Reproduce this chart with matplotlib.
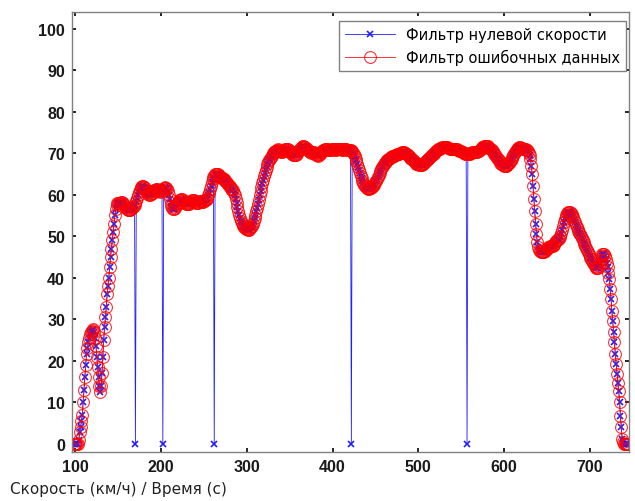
import matplotlib

matplotlib.use('Agg')
import matplotlib.pyplot as plt
import numpy as np

# speed samples, one per second, starting at t = 98 s
speed = [
    0, 0, 0, 0, 0, 0, 1, 2.8, 4, 5.5,                                   # 98
    7, 10, 13, 16, 19, 21.5, 23, 24.5, 25.5, 26.5,                      # 108
    27, 27.2, 27.4, 27.6, 27, 25.5, 23.5, 21, 18.5, 16,                 # 118
    14, 12.5, 14, 17, 21, 25, 28, 30.5, 33, 36,                         # 128
    38, 40, 42.5, 45, 47, 49, 51, 53, 55, 56.5,                         # 138
    57.5, 58, 58, 58, 58, 58.2, 58.2, 58, 57.8, 57.5,                   # 148
    57, 56.8, 56.5, 56.3, 56.2, 56.2, 56.3, 56.5, 56.8, 57,             # 158
    57.3, 57.6, 58, 58.5, 59.2, 60, 60.6, 61.1, 61.5, 61.8,             # 168
    62, 62, 61.8, 61.5, 61, 60.6, 60.3, 60.1, 60, 60,                   # 178
    60.1, 60.3, 60.5, 60.8, 61, 61.2, 61.3, 61.3, 61.2, 61,             # 188
    60.8, 60.7, 60.8, 61, 61.2, 61.5, 61.7, 61.8, 61.7, 61.4,           # 198
    60.8, 60, 59, 58, 57.3, 56.8, 56.6, 56.6, 56.8, 57.3,               # 208
    57.7, 58, 58.3, 58.6, 58.8, 59, 59, 58.8, 58.5, 58.2,               # 218
    58, 57.8, 57.7, 57.7, 57.8, 58, 58.2, 58.4, 58.6, 58.7,             # 228
    58.6, 58.4, 58.2, 58, 57.9, 58, 58.2, 58.4, 58.5, 58.4,             # 238
    58.3, 58.3, 58.4, 58.6, 58.8, 59, 59.3, 59.8, 60.5, 61.3,           # 248
    62.2, 63, 63.7, 64.2, 64.6, 64.9, 65, 65, 64.9, 64.7,               # 258
    64.5, 64.3, 64.1, 64, 63.9, 63.7, 63.5, 63.3, 63, 62.8,             # 268
    62.5, 62.2, 62, 61.7, 61.4, 61.2, 61, 60.5, 60, 59,                 # 278
    58, 57, 56, 55, 54.3, 53.7, 53.2, 52.8, 52.5, 52.2,                 # 288
    52, 51.8, 51.7, 51.6, 51.6, 51.7, 51.9, 52.2, 52.5, 53,             # 298
    53.6, 54.3, 55.1, 56, 56.9, 57.8, 58.8, 59.8, 60.8, 61.8,           # 308
    62.7, 63.6, 64.5, 65.3, 66, 66.7, 67.3, 67.8, 68.3, 68.7,           # 318
    69.1, 69.4, 69.7, 70, 70.2, 70.4, 70.6, 70.8, 70.9, 70.8,           # 328
    70.6, 70.4, 70.3, 70.3, 70.4, 70.6, 70.8, 71, 71.1, 71.1,           # 338
    71, 70.8, 70.6, 70.3, 70, 69.8, 69.6, 69.5, 69.5, 69.6,             # 348
    69.8, 70.1, 70.4, 70.7, 71, 71.3, 71.5, 71.6, 71.6, 71.5,           # 358
    71.4, 71.2, 71, 70.8, 70.6, 70.4, 70.2, 70.1, 70.2, 70.3,           # 368
    70.2, 70, 69.8, 69.6, 69.5, 69.4, 69.5, 69.7, 70, 70.3,             # 378
    70.5, 70.7, 70.8, 70.9, 71, 71, 70.9, 70.8, 70.7, 70.7,             # 388
    70.8, 70.9, 71, 71, 70.9, 70.8, 70.8, 70.9, 71, 71.1,               # 398
    71.1, 71, 70.9, 70.8, 70.8, 70.9, 71, 71, 70.9, 70.8,               # 408
    70.8, 70.8, 70.8, 70.7, 70.6, 70.4, 70.1, 69.7, 69.2, 68.6,         # 418
    68, 67.3, 66.6, 65.9, 65.2, 64.5, 63.9, 63.3, 62.8, 62.4,           # 428
    62.1, 61.8, 61.6, 61.5, 61.4, 61.4, 61.5, 61.6, 61.8, 62,           # 438
    62.3, 62.6, 63, 63.4, 63.8, 64.3, 64.8, 65.3, 65.8, 66.2,           # 448
    66.6, 67, 67.3, 67.6, 67.9, 68.1, 68.3, 68.5, 68.7, 68.8,           # 458
    69, 69.1, 69.2, 69.3, 69.4, 69.5, 69.6, 69.7, 69.8, 69.9,           # 468
    69.9, 70, 70.1, 70.2, 70.2, 70.2, 70.1, 70, 69.9, 69.7,             # 478
    69.5, 69.3, 69.1, 68.9, 68.7, 68.5, 68.3, 68.1, 67.9, 67.7,         # 488
    67.5, 67.4, 67.3, 67.2, 67.2, 67.2, 67.2, 67.3, 67.5, 67.7,         # 498
    67.9, 68.1, 68.3, 68.5, 68.7, 68.9, 69.1, 69.3, 69.5, 69.7,         # 508
    69.9, 70.1, 70.3, 70.5, 70.7, 70.9, 71, 71.1, 71.2, 71.3,           # 518
    71.4, 71.4, 71.5, 71.5, 71.5, 71.4, 71.4, 71.3, 71.2, 71.1,         # 528
    71, 71, 71, 71, 71, 71, 71, 70.9, 70.8, 70.7,                       # 538
    70.6, 70.5, 70.4, 70.3, 70.2, 70.1, 70, 69.9, 69.8, 69.8,           # 548
    69.8, 69.8, 69.9, 70, 70.1, 70.2, 70.2, 70.2, 70.2, 70.2,           # 558
    70.2, 70.3, 70.4, 70.6, 70.8, 71, 71.2, 71.4, 71.5, 71.6,           # 568
    71.7, 71.7, 71.7, 71.6, 71.5, 71.3, 71.1, 70.9, 70.7, 70.4,         # 578
    70.1, 69.8, 69.5, 69.2, 68.9, 68.6, 68.3, 68, 67.7, 67.5,           # 588
    67.3, 67.1, 67, 66.9, 66.9, 67, 67.1, 67.3, 67.6, 67.9,             # 598
    68.3, 68.7, 69.1, 69.5, 69.9, 70.3, 70.6, 70.9, 71.1, 71.3,         # 608
    71.4, 71.4, 71.3, 71.2, 71.1, 71, 71, 71, 71, 70.8,                 # 618
    70.5, 70.1, 69.5, 68.5, 67, 65, 62, 59, 56, 53,                     # 628
    50.5, 48.5, 47.3, 46.7, 46.4, 46.3, 46.2, 46.2, 46.2, 46.3,         # 638
    46.5, 46.7, 47, 47.2, 47.4, 47.5, 47.6, 47.6, 47.6, 47.7,           # 648
    47.9, 48.2, 48.5, 48.8, 49, 49.2, 49.4, 49.7, 50.1, 50.7,           # 658
    51.5, 52.4, 53.3, 54.1, 54.7, 55.2, 55.5, 55.7, 55.8, 55.8,         # 668
    55.6, 55.3, 54.9, 54.5, 54, 53.4, 52.8, 52.2, 51.7, 51.2,           # 678
    50.8, 50.4, 50, 49.6, 49.1, 48.6, 48.1, 47.6, 47.2, 46.7,           # 688
    46.2, 45.7, 45.2, 44.8, 44.4, 44, 43.6, 43.2, 42.9, 42.6,           # 698
    42.4, 42.3, 42.4, 42.8, 43.5, 44.3, 45.1, 45.6, 45.8, 45.6,         # 708
    45.1, 44.4, 43.5, 42.5, 41.2, 39.7, 37.3, 34.9, 32, 29.6,           # 718
    27, 24.5, 21.6, 19.2, 16.8, 14.7, 12.7, 10, 6.7, 4,                 # 728
    1.2, 0.3, 0, 0, 0, 0, 0, 0,                                         # 738
]
t_start = 98
dropout_times = [170, 202, 262, 422, 557]   # samples lost in the raw (blue) series

label_zero = "Фильтр нулевой скорости"
label_err = "Фильтр ошибочных данных"
xlabel_text = "Скорость (км/ч) / Время (с)"

t = np.arange(t_start, t_start + len(speed))
red = np.array(speed, dtype=float)
blue = red.copy()
for dt in dropout_times:
    blue[dt - t_start] = 0.0

fig = plt.figure(figsize=(6.35, 5.02), dpi=100)
ax = fig.add_axes([72 / 635, 1 - 453 / 502, 557 / 635, 440 / 502])

h_blue, = ax.plot(t, blue, color='#2020ff', lw=0.6, marker='x',
                  markersize=4, markeredgewidth=1.2, label=label_zero)
h_red, = ax.plot(t, red, color='red', lw=0.7, marker='o', markersize=8.5,
                 markerfacecolor='none', markeredgewidth=0.8, alpha=0.8,
                 label=label_err)

ax.set_xlim(96, 746)
ax.set_ylim(-2, 104)
ax.set_xticks(np.arange(100, 701, 100))
ax.set_yticks(np.arange(0, 101, 10))

for s in ax.spines.values():
    s.set_color('#808080')
    s.set_linewidth(1)
ax.tick_params(direction='in', length=3, width=1.2, color='black',
               top=True, right=True, pad=5)
for lab in ax.get_xticklabels() + ax.get_yticklabels():
    lab.set_fontfamily('Liberation Sans')
    lab.set_fontweight('bold')
    lab.set_fontsize(11.5)
    lab.set_color('#1a1a1a')

leg = ax.legend(handles=[h_blue, h_red], loc='upper right',
                bbox_to_anchor=(0.995, 0.98), borderaxespad=0,
                fancybox=False, framealpha=1, edgecolor='#808080',
                handlelength=3.4, prop={'family': 'DejaVu Sans', 'size': 10.5})
leg.get_frame().set_linewidth(1)

fig.text(10 / 635, 1 - 490 / 502, xlabel_text, fontsize=11,
         family='DejaVu Sans', color='#222222', va='center', ha='left')

fig.savefig('out.png', dpi=100)
